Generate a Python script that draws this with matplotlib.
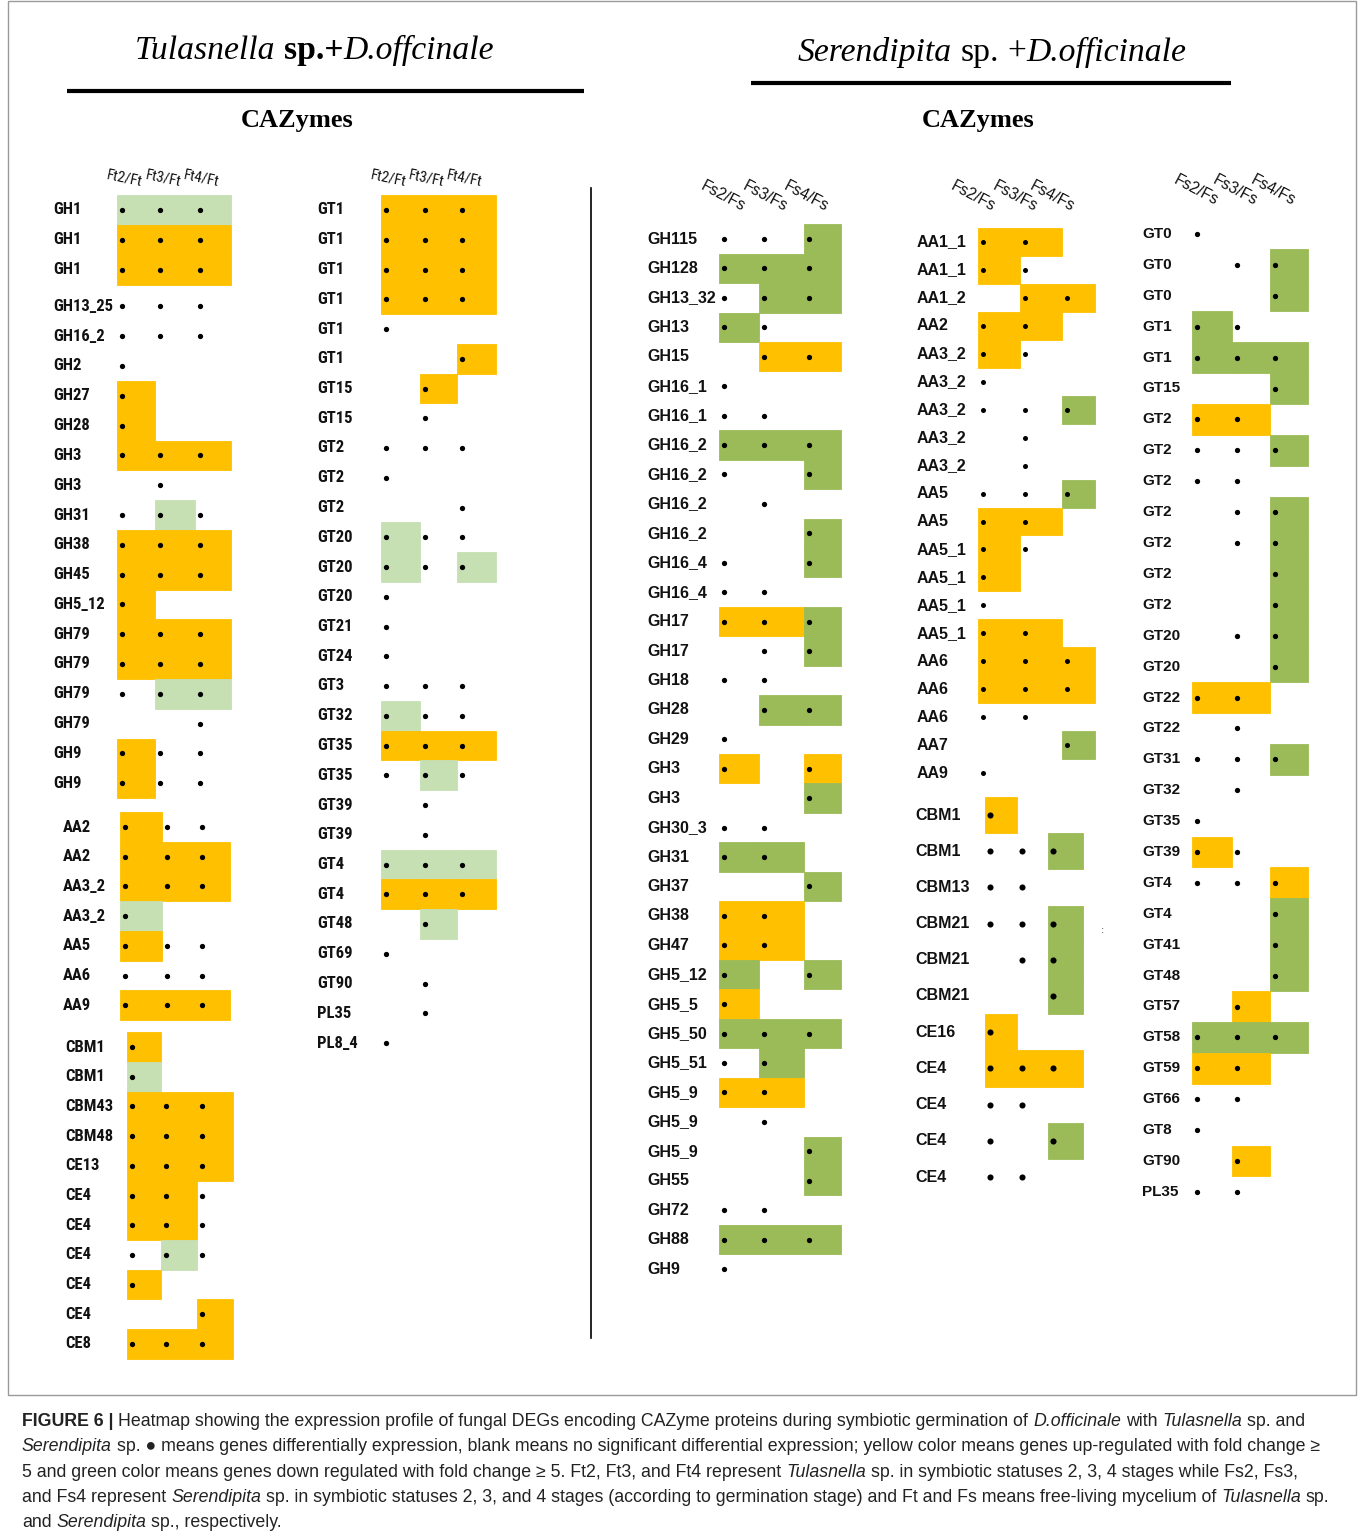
import matplotlib
matplotlib.use("Agg")
import matplotlib.pyplot as plt
from matplotlib import font_manager
from matplotlib.patches import Rectangle

# cell codes: y = up (yellow), l = down (light green), g = down (green),
# "." = differentially expressed only, " " = blank
t_gh_labels = ["GH1", "GH1", "GH1", "GH13_25", "GH16_2", "GH2", "GH27", "GH28", "GH3", "GH3",
               "GH31", "GH38", "GH45", "GH5_12", "GH79", "GH79", "GH79", "GH79", "GH9", "GH9"]
t_gh_codes = ["lll", "yyy", "yyy", "...", "...", ".  ", "y  ", "y  ", "yyy", " . ",
              ".l.", "yyy", "yyy", "y  ", "yyy", "yyy", ".ll", "  .", "y..", "y.."]

t_aa_labels = ["AA2", "AA2", "AA3_2", "AA3_2", "AA5", "AA6", "AA9"]
t_aa_codes = ["y..", "yyy", "yyy", "l  ", "y..", "...", "yyy"]

t_cbm_labels = ["CBM1", "CBM1", "CBM43", "CBM48", "CE13", "CE4", "CE4", "CE4", "CE4", "CE4", "CE8"]
t_cbm_codes = ["y  ", "l  ", "yyy", "yyy", "yyy", "yy.", "yy.", ".l.", "y  ", "  y", "yyy"]

t_gt_labels = ["GT1", "GT1", "GT1", "GT1", "GT1", "GT1", "GT15", "GT15", "GT2", "GT2", "GT2",
               "GT20", "GT20", "GT20", "GT21", "GT24", "GT3", "GT32", "GT35", "GT35", "GT39",
               "GT39", "GT4", "GT4", "GT48", "GT69", "GT90", "PL35", "PL8_4"]
t_gt_codes = ["yyy", "yyy", "yyy", "yyy", ".  ", "  y", " y ", " . ", "...", ".  ", "  .",
              "l..", "l.l", ".  ", ".  ", ".  ", "...", "l..", "yyy", ".l.", " . ",
              " . ", "lll", "yyy", " l ", ".  ", " . ", " . ", ".  "]

s_gh_labels = ["GH115", "GH128", "GH13_32", "GH13", "GH15", "GH16_1", "GH16_1", "GH16_2", "GH16_2",
               "GH16_2", "GH16_2", "GH16_4", "GH16_4", "GH17", "GH17", "GH18", "GH28", "GH29",
               "GH3", "GH3", "GH30_3", "GH31", "GH37", "GH38", "GH47", "GH5_12", "GH5_5", "GH5_50",
               "GH5_51", "GH5_9", "GH5_9", "GH5_9", "GH55", "GH72", "GH88", "GH9"]
s_gh_codes = ["..g", "ggg", ".gg", "g. ", " yy", ".  ", ".. ", "ggg", ". g",
              " . ", "  g", ". g", ".. ", "yyg", " .g", ".. ", " gg", ".  ",
              "y y", "  g", ".. ", "gg ", "  g", "yy ", "yy ", "g g", "y  ", "ggg",
              ".g ", "yy ", " . ", "  g", "  g", ".. ", "ggg", ".  "]

s_aa_labels = ["AA1_1", "AA1_1", "AA1_2", "AA2", "AA3_2", "AA3_2", "AA3_2", "AA3_2", "AA3_2", "AA5",
               "AA5", "AA5_1", "AA5_1", "AA5_1", "AA5_1", "AA6", "AA6", "AA6", "AA7", "AA9"]
s_aa_codes = ["yy ", "y. ", " yy", "yy ", "y. ", ".  ", "..g", " . ", " . ", "..g",
              "yy ", "y. ", "y  ", ".  ", "yy ", "yyy", "yyy", ".. ", "  g", ".  "]

s_cbm_labels = ["CBM1", "CBM1", "CBM13", "CBM21", "CBM21", "CBM21", "CE16", "CE4", "CE4", "CE4", "CE4"]
s_cbm_codes = ["y  ", "..g", ".. ", "..g", " .g", "  g", "y  ", "yyy", ".. ", ". g", ".. "]

s_gt_labels = ["GT0", "GT0", "GT0", "GT1", "GT1", "GT15", "GT2", "GT2", "GT2", "GT2", "GT2", "GT2",
               "GT2", "GT20", "GT20", "GT22", "GT22", "GT31", "GT32", "GT35", "GT39", "GT4", "GT4",
               "GT41", "GT48", "GT57", "GT58", "GT59", "GT66", "GT8", "GT90", "PL35"]
s_gt_codes = [".  ", " .g", "  g", "g. ", "ggg", "  g", "yy ", "..g", ".. ", " .g", " .g", "  g",
              "  g", " .g", "  g", "yy ", " . ", "..g", " . ", ".  ", "y. ", "..y", "  g",
              "  g", "  g", " y ", "ggg", "yy ", ".. ", ".  ", " y ", ".. "]

ft_headers = ["Ft2/Ft", "Ft3/Ft", "Ft4/Ft"]
fs_headers = ["Fs2/Fs", "Fs3/Fs", "Fs4/Fs"]

colors = {"y": "#FFC000", "l": "#C6E0B4", "g": "#9BBB59"}

# pick a condensed sans for the Tulasnella side if one is installed
installed = {f.name for f in font_manager.fontManager.ttflist}
narrow_name = next((n for n in ["Liberation Sans Narrow", "DejaVu Sans Condensed", "Roboto Condensed"]
                    if n in installed), None)
if narrow_name:
    NARROW = [narrow_name, "Liberation Sans", "DejaVu Sans"]
    nfs, hfs = 12, 10.8
else:
    NARROW = ["Liberation Sans", "DejaVu Sans"]
    nfs, hfs = 10.2, 9.6
WIDE = ["Liberation Sans", "DejaVu Sans"]

fig = plt.figure(figsize=(13.58, 15.35), dpi=100)
ax = fig.add_axes([0, 0, 1, 1])
ax.set_xlim(0, 1358)
ax.set_ylim(1535, 0)
ax.axis("off")
renderer = fig.canvas.get_renderer()

blocks = [
    dict(labels=t_gh_labels, codes=t_gh_codes, lx=53, cols=[117, 155, 195, 231], y0=210, dy=29.8,
         gap=(3, 7), font=NARROW, fs=nfs, ms=3.8, hdr=ft_headers, hy=178, hdx=-12, rot=-12, hfs=hfs),
    dict(labels=t_aa_labels, codes=t_aa_codes, lx=63, cols=[120, 162, 197, 230], y0=827, dy=29.7,
         font=NARROW, fs=nfs, ms=3.8),
    dict(labels=t_cbm_labels, codes=t_cbm_codes, lx=65, cols=[127, 161, 197, 233], y0=1047, dy=29.7,
         font=NARROW, fs=nfs, ms=3.8),
    dict(labels=t_gt_labels, codes=t_gt_codes, lx=317, cols=[381, 420, 457, 496], y0=210, dy=29.75,
         font=NARROW, fs=nfs, ms=3.8, hdr=ft_headers, hy=178, hdx=-12, rot=-12, hfs=hfs),
    dict(labels=s_gh_labels, codes=s_gh_codes, lx=647, cols=[719, 759, 804, 841], y0=239, dy=29.43,
         font=WIDE, fs=11.5, ms=3.8, hdr=fs_headers, hy=196, hdx=-16, rot=-28, hfs=11.3),
    dict(labels=s_aa_labels, codes=s_aa_codes, lx=917, cols=[978, 1020, 1062, 1095], y0=242, dy=27.95,
         font=WIDE, fs=11.5, ms=3.6, hdr=fs_headers, hy=196, hdx=-26, rot=-28, hfs=11.3),
    dict(labels=s_cbm_labels, codes=s_cbm_codes, lx=915, cols=[985, 1017, 1048, 1083], y0=815, dy=36.2,
         font=WIDE, fs=11.5, ms=4.4),
    dict(labels=s_gt_labels, codes=s_gt_codes, lx=1142, cols=[1192, 1232, 1270, 1308], y0=234, dy=30.9,
         font=WIDE, fs=11, ms=3.8, hdr=fs_headers, hy=190, hdx=-16, rot=-28, hfs=11.3),
]

for b in blocks:
    cols = b["cols"]
    for i, (lab, code) in enumerate(zip(b["labels"], b["codes"])):
        yc = b["y0"] + i * b["dy"]
        if "gap" in b and i >= b["gap"][0]:
            yc += b["gap"][1]
        ax.text(b["lx"], yc, lab, ha="left", va="center", fontsize=b["fs"],
                fontweight="bold", family=b["font"], color="#111111")
        for c, ch in enumerate(code):
            x0, x1 = cols[c], cols[c + 1]
            if ch in colors:
                ax.add_patch(Rectangle((x0, yc - b["dy"] / 2), x1 - x0, b["dy"],
                                       fc=colors[ch], ec=colors[ch], lw=0.6, zorder=1))
            if ch != " ":
                ax.plot(x0 + 4.5, yc, "o", color="black", ms=b["ms"], mew=0, zorder=3)
    if "hdr" in b:
        for c, h in enumerate(b["hdr"]):
            xc = (cols[c] + cols[c + 1]) / 2 + b["hdx"]
            ax.text(xc, b["hy"], h, ha="center", va="center", rotation=b["rot"],
                    rotation_mode="anchor", fontsize=b["hfs"], family=b["font"], color="#111111")


def width_of(s, **kw):
    t = ax.text(0, 0, s, **kw)
    w = t.get_window_extent(renderer).width
    t.remove()
    return w


styles = {"n": {}, "i": {"style": "italic"}, "b": {"weight": "bold"}}


def draw_runs(x, y, runs, **base):
    for s, st in runs:
        kw = dict(base)
        kw.update(styles[st])
        sw = width_of("a a", **kw) - width_of("aa", **kw)
        lead = len(s) - len(s.lstrip(" "))
        trail = len(s) - len(s.rstrip(" "))
        x += lead * sw
        core = s.strip(" ")
        if core:
            t = ax.text(x, y, core, ha="left", va="baseline", **kw)
            x += t.get_window_extent(renderer).width
        x += trail * sw


# titles
serif = dict(family=["Liberation Serif", "DejaVu Serif"], fontsize=24.2, color="black")
draw_runs(135, 59, [("Tulasnella", "i"), (" sp.+", "b"), ("D.offcinale", "i")], **serif)
draw_runs(798, 61, [("Serendipita", "i"), (" sp.", "n"), (" +", "n"), ("D.officinale", "i")], **serif)
ax.plot([67, 584], [91, 91], color="black", lw=3, solid_capstyle="butt")
ax.plot([751, 1231], [83, 83], color="black", lw=3, solid_capstyle="butt")
ax.text(297, 120, "CAZymes", ha="center", va="center", fontsize=19, fontweight="bold",
        family=["Liberation Serif", "DejaVu Serif"])
ax.text(978, 121, "CAZymes", ha="center", va="center", fontsize=19, fontweight="bold",
        family=["Liberation Serif", "DejaVu Serif"])
ax.plot([591, 591], [188, 1338], color="black", lw=1.2)
ax.text(1103, 930, ":", ha="center", va="center", fontsize=7, color="#444444")

# frame around the figure
ax.add_patch(Rectangle((8, 1), 1348, 1394, fill=False, ec="#9a9a9a", lw=1))

# caption
caption_lines = [
    [("FIGURE 6 | ", "b"), ("Heatmap showing the expression profile of fungal DEGs encoding CAZyme proteins "
                            "during symbiotic germination of ", "n"), ("D.officinale", "i"), (" with ", "n"),
     ("Tulasnella", "i"), (" sp. and", "n")],
    [("Serendipita", "i"), (" sp. \u25cf means genes differentially expression, blank means no significant "
                            "differential expression; yellow color means genes up-regulated with fold change \u2265", "n")],
    [("5 and green color means genes down regulated with fold change \u2265 5. Ft2, Ft3, and Ft4 represent ", "n"),
     ("Tulasnella", "i"), (" sp. in symbiotic statuses 2, 3, 4 stages while Fs2, Fs3,", "n")],
    [("and Fs4 represent ", "n"), ("Serendipita", "i"),
     (" sp. in symbiotic statuses 2, 3, and 4 stages (according to germination stage) and Ft and Fs means "
      "free-living mycelium of ", "n"), ("Tulasnella", "i"), (" sp.", "n")],
    [("and ", "n"), ("Serendipita", "i"), (" sp., respectively.", "n")],
]
cap = dict(family=WIDE, fontsize=12.8, color="#222222")
for k, line in enumerate(caption_lines):
    draw_runs(22, 1426 + k * 25.3, line, **cap)

fig.savefig("out.png", dpi=100)
